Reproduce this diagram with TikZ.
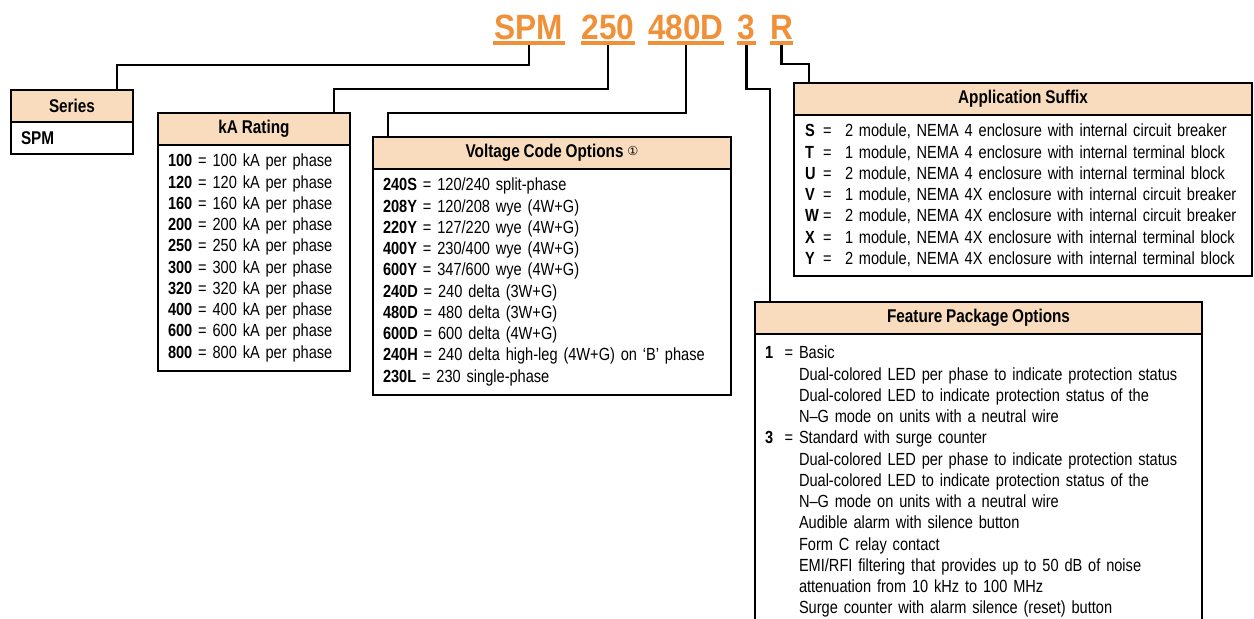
\documentclass[tikz,border=0pt]{standalone}
\usepackage{fontspec}
\setmainfont{Liberation Sans}[FakeStretch=0.83, WordSpace=0.9]
\newfontfamily\codefamily{Liberation Sans}[FakeStretch=0.9]
\newfontfamily\circfont{DejaVu Sans}
\usetikzlibrary{positioning, calc}
\definecolor{CodeOrange}{HTML}{F0913A}
\definecolor{HeadPeach}{HTML}{F8DCBD}
\newcommand{\CodeFont}{\codefamily\bfseries\fontsize{20pt}{24pt}\selectfont}
\newcommand{\HeadFont}{\bfseries\fontsize{10.5pt}{12pt}\selectfont}
\newcommand{\BodyFont}{\fontsize{10pt}{12.1pt}\selectfont}
\newcommand{\appkey}[1]{\makebox[8mm][l]{\makebox[3.6mm][l]{\textbf{#1}}=}}
\newcommand{\fpkey}[1]{\makebox[6.8mm][l]{\makebox[3.9mm][l]{\textbf{#1}}=}}
\newcommand{\fpmore}{\hspace*{6.8mm}}

\begin{document}
\begin{tikzpicture}[x=0.2mm, y=-0.2mm,
  codepart/.style={text=CodeOrange, font=\CodeFont, inner sep=0pt, text depth=0pt, anchor=south},
  boxhead/.style={draw, line width=1.2pt, fill=HeadPeach, font=\HeadFont, minimum height=6.4mm, inner sep=0pt, outer sep=0pt, anchor=north west},
  boxbody/.style={draw, line width=1.2pt, fill=white, font=\BodyFont, align=left, inner xsep=2mm, inner ysep=1.8mm, outer sep=0pt},
  link/.style={line width=1.2pt}]
  \path[use as bounding box, clip] (0,0) rectangle (1254,618);

  % part number
  \node[codepart, minimum width=14.4mm] (tSPM) at (529,40) {SPM};
  \node[codepart, minimum width=10mm] (t250) at (608,40) {250};
  \node[codepart, minimum width=14.4mm] (t480D) at (686,40) {480D};
  \node[codepart, minimum width=3.4mm] (t3) at (746.5,40) {3};
  \node[codepart, minimum width=4.2mm] (tR) at (781.5,40) {R};

  % option boxes
  \node[boxhead, minimum width=24.4mm] (sHead) at (11,90) {Series};
  \node[boxbody, text width=20.4mm, minimum height=6.4mm, below=0pt of sHead] (sBody) {{\HeadFont SPM}};

  \node[boxhead, minimum width=38.4mm] (kaHead) at (158,113) {kA Rating};
  \node[boxbody, text width=34.4mm, minimum height=44.8mm, below=0pt of kaHead] (kaBody) {
    \textbf{100} = 100 kA per phase\\
    \textbf{120} = 120 kA per phase\\
    \textbf{160} = 160 kA per phase\\
    \textbf{200} = 200 kA per phase\\
    \textbf{250} = 250 kA per phase\\
    \textbf{300} = 300 kA per phase\\
    \textbf{320} = 320 kA per phase\\
    \textbf{400} = 400 kA per phase\\
    \textbf{600} = 600 kA per phase\\
    \textbf{800} = 800 kA per phase};

  \node[boxhead, minimum width=71.6mm] (vHead) at (373,137)
    {Voltage Code Options {\circfont\mdseries\fontsize{7pt}{7pt}\selectfont\raisebox{0.4ex}{①}}};
  \node[boxbody, text width=67.6mm, minimum height=44.8mm, below=0pt of vHead] (vBody) {
    \textbf{240S} = 120/240 split-phase\\
    \textbf{208Y} = 120/208 wye (4W+G)\\
    \textbf{220Y} = 127/220 wye (4W+G)\\
    \textbf{400Y} = 230/400 wye (4W+G)\\
    \textbf{600Y} = 347/600 wye (4W+G)\\
    \textbf{240D} = 240 delta (3W+G)\\
    \textbf{480D} = 480 delta (3W+G)\\
    \textbf{600D} = 600 delta (4W+G)\\
    \textbf{240H} = 240 delta high-leg (4W+G) on `B' phase\\
    \textbf{230L} = 230 single-phase};

  \node[boxhead, minimum width=91.6mm] (aHead) at (794,83) {Application Suffix};
  \node[boxbody, inner xsep=2.2mm, text width=87.2mm, minimum height=31.4mm, below=0pt of aHead] (aBody) {
    \appkey{S}2 module, NEMA 4 enclosure with internal circuit breaker\\
    \appkey{T}1 module, NEMA 4 enclosure with internal terminal block\\
    \appkey{U}2 module, NEMA 4 enclosure with internal terminal block\\
    \appkey{V}1 module, NEMA 4X enclosure with internal circuit breaker\\
    \appkey{W}2 module, NEMA 4X enclosure with internal circuit breaker\\
    \appkey{X}1 module, NEMA 4X enclosure with internal terminal block\\
    \appkey{Y}2 module, NEMA 4X enclosure with internal terminal block};

  \node[boxhead, minimum width=89.4mm] (fHead) at (755,302) {Feature Package Options};
  \node[boxbody, text width=85.4mm, inner ysep=2.4mm, below=0pt of fHead] (fBody) {
    \fpkey{1}Basic\\
    \fpmore Dual-colored LED per phase to indicate protection status\\
    \fpmore Dual-colored LED to indicate protection status of the\\
    \fpmore N--G mode on units with a neutral wire\\
    \fpkey{3}Standard with surge counter\\
    \fpmore Dual-colored LED per phase to indicate protection status\\
    \fpmore Dual-colored LED to indicate protection status of the\\
    \fpmore N--G mode on units with a neutral wire\\
    \fpmore Audible alarm with silence button\\
    \fpmore Form C relay contact\\
    \fpmore EMI/RFI filtering that provides up to 50 dB of noise\\
    \fpmore attenuation from 10 kHz to 100 MHz\\
    \fpmore Surge counter with alarm silence (reset) button};

  % links
  \draw[link] ($(tSPM.south)+(0,3)$) -- ++(0,22) -| ($(sHead.north west)+(106,0)$);
  \draw[link] ($(t250.south)+(0,3)$) -- ++(0,46) -| ($(kaHead.north west)+(176,0)$);
  \draw[link] ($(t480D.south)+(0,3)$) -- ++(0,70) -| ($(vHead.north west)+(15,0)$);
  \draw[link] ($(t3.south)+(0,3)$) -- ++(0,46) -| ($(fHead.north west)+(15,0)$);
  \draw[link] ($(tR.south)+(0,3)$) -- ++(0,21) -| ($(aHead.north west)+(15,0)$);
  \foreach \n in {tSPM,t250,t480D,t3,tR}
    \draw[CodeOrange, line width=2.2pt] ($(\n.south west)+(0,3)$) -- ($(\n.south east)+(0,3)$);
\end{tikzpicture}
\end{document}
